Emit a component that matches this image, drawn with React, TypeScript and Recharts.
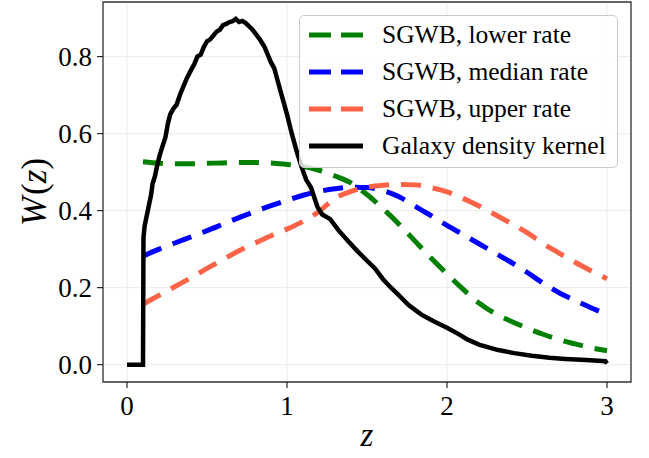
import { LineChart, Line, XAxis, YAxis, CartesianGrid, ReferenceArea } from "recharts";

const FONT = '"Liberation Serif", "Times New Roman", serif';

// redshift grid for the SGWB kernels
const rateZ = [0.1, 0.2, 0.3, 0.4, 0.5, 0.6, 0.7, 0.8, 0.9, 1.0, 1.1, 1.2, 1.3, 1.4, 1.5, 1.6, 1.7, 1.8, 1.9, 2.0, 2.1, 2.2, 2.3, 2.4, 2.5, 2.6, 2.7, 2.8, 2.9, 3.0];
const lowerRate = [0.527, 0.523, 0.522, 0.522, 0.523, 0.524, 0.525, 0.525, 0.524, 0.52, 0.515, 0.505, 0.49, 0.472, 0.442, 0.405, 0.365, 0.321, 0.277, 0.236, 0.196, 0.16, 0.133, 0.113, 0.095, 0.079, 0.065, 0.054, 0.044, 0.036];
const medianRate = [0.282, 0.3, 0.316, 0.332, 0.348, 0.365, 0.382, 0.398, 0.413, 0.427, 0.44, 0.45, 0.457, 0.461, 0.46, 0.452, 0.436, 0.412, 0.387, 0.362, 0.338, 0.314, 0.29, 0.266, 0.24, 0.212, 0.187, 0.167, 0.148, 0.13];
const upperRate = [0.157, 0.18, 0.203, 0.226, 0.25, 0.273, 0.296, 0.316, 0.335, 0.352, 0.372, 0.398, 0.432, 0.45, 0.461, 0.466, 0.468, 0.467, 0.46, 0.449, 0.432, 0.412, 0.39, 0.367, 0.343, 0.315, 0.29, 0.266, 0.244, 0.223];

// galaxy density kernel (noisy histogram-like curve)
const kernelZ = [0, 0.05, 0.1, 0.103, 0.11, 0.125, 0.135, 0.15, 0.16, 0.175, 0.19, 0.205, 0.22, 0.24, 0.255, 0.27, 0.29, 0.31, 0.33, 0.35, 0.375, 0.4, 0.42, 0.44, 0.46, 0.48, 0.5, 0.52, 0.54, 0.56, 0.58, 0.6, 0.62, 0.64, 0.66, 0.68, 0.7, 0.72, 0.74, 0.76, 0.78, 0.8, 0.83, 0.86, 0.88, 0.9, 0.92, 0.94, 0.96, 0.98, 1.0, 1.03, 1.06, 1.09, 1.12, 1.15, 1.19, 1.22, 1.27, 1.32, 1.38, 1.44, 1.5, 1.55, 1.6, 1.65, 1.7, 1.76, 1.84, 1.92, 2.0, 2.07, 2.13, 2.2, 2.32, 2.42, 2.53, 2.64, 2.74, 2.87, 2.99, 3.0];
const kernelW = [0, 0, 0, 0.33, 0.36, 0.39, 0.41, 0.44, 0.47, 0.49, 0.52, 0.545, 0.565, 0.59, 0.625, 0.65, 0.665, 0.675, 0.7, 0.72, 0.745, 0.765, 0.78, 0.8, 0.805, 0.825, 0.84, 0.845, 0.855, 0.865, 0.87, 0.882, 0.885, 0.89, 0.892, 0.898, 0.89, 0.893, 0.888, 0.88, 0.872, 0.862, 0.845, 0.825, 0.805, 0.785, 0.77, 0.74, 0.71, 0.68, 0.65, 0.6, 0.555, 0.515, 0.48, 0.46, 0.41, 0.39, 0.378, 0.35, 0.322, 0.295, 0.27, 0.25, 0.222, 0.2, 0.18, 0.155, 0.13, 0.112, 0.096, 0.08, 0.065, 0.052, 0.038, 0.03, 0.023, 0.018, 0.015, 0.012, 0.009, 0.003];

const xTicks = [0, 1, 2, 3];
const yTicks = [0, 0.2, 0.4, 0.6, 0.8];

const series = [
  { name: "SGWB, lower rate", color: "#008000", values: lowerRate },
  { name: "SGWB, median rate", color: "#0000ff", values: medianRate },
  { name: "SGWB, upper rate", color: "#ff6347", values: upperRate },
];

const rateData = series.map((s) => rateZ.map((z, i) => ({ z, v: s.values[i] })));
const kernelData = kernelZ.map((z, i) => ({ z, v: kernelW[i] }));

const legendItems = [
  ...series.map((s) => ({ name: s.name, color: s.color, dash: true })),
  { name: "Galaxy density kernel", color: "#000000", dash: false },
];

function YLabel({ viewBox }: any) {
  const cx = 34;
  const cy = viewBox ? viewBox.y + viewBox.height / 2 : 192;
  return (
    <text x={cx} y={cy} transform={`rotate(-90, ${cx}, ${cy})`} textAnchor="middle" dominantBaseline="central" fontFamily={FONT} fontSize={35} fill="#000">
      <tspan fontStyle="italic">W</tspan>
      <tspan dx={2}>(</tspan>
      <tspan fontStyle="italic">z</tspan>
      <tspan>)</tspan>
    </text>
  );
}

function XLabel({ viewBox }: any) {
  const cx = viewBox ? viewBox.x + viewBox.width / 2 : 368;
  return (
    <text x={cx} y={446} textAnchor="middle" fontFamily={FONT} fontSize={33} fontStyle="italic" fill="#000">
      z
    </text>
  );
}

export default function App() {
  return (
    <div style={{ position: "absolute", left: 0, top: 0, width: 649, height: 458, background: "#fff" }}>
      <LineChart width={649} height={458} margin={{ top: 2, right: 18, bottom: 16, left: 0 }}>
        <CartesianGrid stroke="#ebebeb" strokeWidth={1} />
        <XAxis
          dataKey="z"
          type="number"
          domain={[-0.15, 3.15]}
          ticks={xTicks}
          allowDataOverflow
          height={60}
          tickSize={6}
          tickMargin={8}
          axisLine={false}
          tickLine={{ stroke: "#000" }}
          tick={{ fill: "#000", fontSize: 27, fontFamily: FONT }}
          label={<XLabel />}
        />
        <YAxis
          type="number"
          domain={[-0.045, 0.942]}
          ticks={yTicks}
          allowDataOverflow
          width={103}
          tickSize={6}
          tickMargin={5}
          axisLine={false}
          tickLine={{ stroke: "#000" }}
          tickFormatter={(v) => v.toFixed(1)}
          tick={{ fill: "#000", fontSize: 27, fontFamily: FONT }}
          label={<YLabel />}
        />
        {series.map((s, i) => (
          <Line
            key={s.name}
            data={rateData[i]}
            dataKey="v"
            type="monotone"
            stroke={s.color}
            strokeWidth={5}
            strokeDasharray="20 12"
            dot={false}
            isAnimationActive={false}
          />
        ))}
        <Line data={kernelData} dataKey="v" type="linear" stroke="#000" strokeWidth={4.5} dot={false} isAnimationActive={false} />
        <ReferenceArea x1={-0.15} x2={3.15} y1={-0.045} y2={0.942} fill="none" stroke="#333" strokeWidth={1.3} ifOverflow="visible" />
      </LineChart>
      <div
        style={{
          position: "absolute",
          left: 299,
          top: 15,
          width: 317,
          height: 151,
          border: "1px solid #cccccc",
          borderRadius: 5,
          background: "rgba(255,255,255,0.8)",
          fontFamily: FONT,
          fontSize: 25.5,
          color: "#000",
        }}
      >
        {legendItems.map((it) => (
          <div key={it.name} style={{ display: "flex", alignItems: "center", height: 37 }}>
            <svg width={54} height={10} style={{ marginLeft: 9, marginRight: 19 }}>
              <line x1={0} y1={5} x2={54} y2={5} stroke={it.color} strokeWidth={5} strokeDasharray={it.dash ? "22 10" : undefined} />
            </svg>
            <span style={{ whiteSpace: "nowrap" }}>{it.name}</span>
          </div>
        ))}
      </div>
    </div>
  );
}
